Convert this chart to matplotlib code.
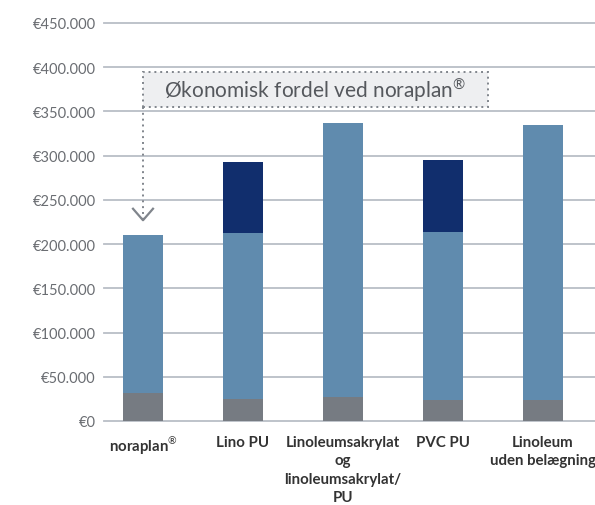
import matplotlib.pyplot as plt
from matplotlib.patches import Rectangle
from matplotlib import font_manager

categories = ["noraplan$^{®}$", "Lino PU", "Linoleumsakrylat\nog\nlinoleumsakrylat/\nPU",
              "PVC PU", "Linoleum\nuden belægning"]
base_vals = [32000, 25000, 27000, 24000, 24000]
mid_vals = [178000, 188000, 310000, 190000, 311000]
top_vals = [0, 80000, 0, 81000, 0]
yticks = [0, 50000, 100000, 150000, 200000, 250000, 300000, 350000, 400000, 450000]
ytick_labels = ["€0", "€50.000", "€100.000", "€150.000", "€200.000", "€250.000",
                "€300.000", "€350.000", "€400.000", "€450.000"]

GRAY = "#767b82"
LIGHT = "#608bae"
NAVY = "#112e6d"
GRID = "#b9bec6"
TXT = "#6a6d72"

names = {f.name for f in font_manager.fontManager.ttflist}
font = "Lato" if "Lato" in names else "DejaVu Sans"
plt.rcParams["mathtext.fontset"] = "custom"
plt.rcParams["mathtext.rm"] = font
plt.rcParams["mathtext.bf"] = font + ":bold"

fig = plt.figure(figsize=(5.95, 5.06), dpi=100)
ax = fig.add_axes([104 / 595, 1 - 422 / 506, 1 - 104 / 595, (422 - 24) / 506])

x = list(range(len(categories)))
w = 0.40
bottom2 = [b + m for b, m in zip(base_vals, mid_vals)]
ax.bar(x, base_vals, width=w, color=GRAY, zorder=3)
ax.bar(x, mid_vals, width=w, bottom=base_vals, color=LIGHT, zorder=3)
ax.bar(x, top_vals, width=w, bottom=bottom2, color=NAVY, zorder=3)

ax.set_xlim(-0.39, 4.52)
ax.set_ylim(0, 450000)
ax.set_yticks(yticks)
ax.set_yticklabels(ytick_labels, fontsize=10.5, color=TXT, family=font)
for yv in yticks:
    ax.axhline(yv, color=GRID, linewidth=1.3, zorder=1, clip_on=False)
ax.set_xticks(x)
ax.set_xticklabels(categories, fontsize=10.8, fontweight="bold", color="#333333",
                   family=font, linespacing=1.4, va="top")
ax.tick_params(axis="both", length=0)
ax.tick_params(axis="y", pad=6)
ax.tick_params(axis="x", pad=10)
for s in ax.spines.values():
    s.set_visible(False)

# annotation box
ax.add_patch(Rectangle((0.0, 355000), 3.45, 39500, facecolor="#eeeff1",
                       edgecolor="#80858c", linestyle=(0, (1, 2)), linewidth=1.4,
                       zorder=4, clip_on=False))
ax.text(1.72, 375000, "Økonomisk fordel ved noraplan$^{®}$", ha="center", va="center",
        fontsize=15, color="#55585d", family=font, zorder=5)
ax.plot([0, 0], [355000, 228000], color="#80858c", linestyle=(0, (1, 2)),
        linewidth=1.4, zorder=4)
ax.plot([-0.1, 0, 0.1], [240000, 227000, 240000], color="#80858c", linewidth=1.6,
        zorder=4)

fig.savefig("out.png", dpi=100, facecolor="white")
